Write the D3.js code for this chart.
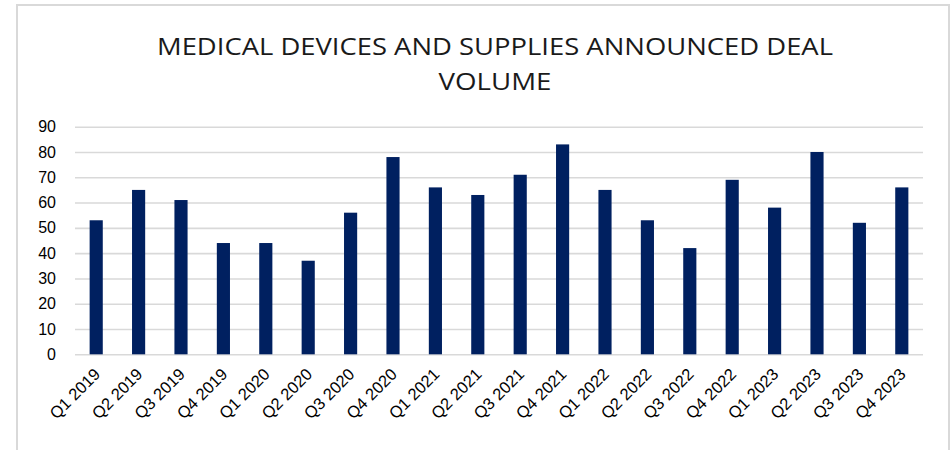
<!DOCTYPE html>
<html>
<head>
<meta charset="utf-8">
<script src="https://cdn.jsdelivr.net/npm/d3@7/dist/d3.min.js"></script>
<style>
  html, body { margin: 0; padding: 0; background: #fff; }
  svg { display: block; }
</style>
</head>
<body>
<svg id="chart" width="951" height="450"></svg>
<script>
// Quarterly announced deal counts
const quarters = ["Q1 2019","Q2 2019","Q3 2019","Q4 2019","Q1 2020","Q2 2020","Q3 2020","Q4 2020",
  "Q1 2021","Q2 2021","Q3 2021","Q4 2021","Q1 2022","Q2 2022","Q3 2022","Q4 2022",
  "Q1 2023","Q2 2023","Q3 2023","Q4 2023"];
const dealCounts = [53, 65, 61, 44, 44, 37, 56, 78, 66, 63, 71, 83, 65, 53, 42, 69, 58, 80, 52, 66];
const yTicks = [0, 10, 20, 30, 40, 50, 60, 70, 80, 90];
const titleLines = ["MEDICAL DEVICES AND SUPPLIES ANNOUNCED DEAL", "VOLUME"];

const svg = d3.select("#chart");

// Chart frame
svg.append("rect")
  .attr("x", 17).attr("y", 5)
  .attr("width", 932).attr("height", 460)
  .attr("fill", "#fff")
  .attr("stroke", "#d9d9d9").attr("stroke-width", 2);

const plot = { left: 75, right: 923, top: 126.7, bottom: 354.3 };

const x = d3.scaleBand()
  .domain(quarters)
  .range([plot.left, plot.right])
  .paddingInner(0.69)
  .paddingOuter(0.345);

const y = d3.scaleLinear()
  .domain([0, 90])
  .range([plot.bottom, plot.top]);

// Title
svg.append("g")
  .selectAll("text")
  .data(titleLines)
  .join("text")
  .attr("x", 495)
  .attr("y", (d, i) => 55 + i * 35)
  .attr("text-anchor", "middle")
  .attr("font-family", "'Open Sans', 'Liberation Sans', sans-serif")
  .attr("font-size", 24.5)
  .attr("fill", "#1a1a1a")
  .attr("textLength", (d, i) => i === 0 ? 676 : 113)
  .attr("lengthAdjust", "spacingAndGlyphs")
  .text(d => d);

// Horizontal gridlines and y labels
const yAxis = d3.axisLeft(y)
  .tickValues(yTicks)
  .tickSize(-(plot.right - plot.left))
  .tickPadding(19)
  .tickFormat(d3.format("d"));

const gy = svg.append("g")
  .attr("transform", `translate(${plot.left},0)`)
  .call(yAxis);
gy.select(".domain").remove();
gy.selectAll(".tick line")
  .attr("stroke", "#d9d9d9")
  .attr("stroke-width", 1.6);
gy.selectAll(".tick text")
  .attr("font-family", "'Liberation Sans', Arial, sans-serif")
  .attr("font-size", 16)
  .attr("fill", "#000");

// Bars
svg.append("g")
  .selectAll("rect")
  .data(dealCounts)
  .join("rect")
  .attr("x", (d, i) => x(quarters[i]))
  .attr("width", x.bandwidth())
  .attr("y", d => y(d))
  .attr("height", d => y(0) - y(d))
  .attr("fill", "#002060");

// Category labels, rotated
const xAxis = d3.axisBottom(x).tickSize(0).tickPadding(0);
const gx = svg.append("g")
  .attr("transform", `translate(0,${plot.bottom})`)
  .call(xAxis);
gx.select(".domain").remove();
gx.selectAll(".tick text")
  .attr("font-family", "'Liberation Sans', Arial, sans-serif")
  .attr("font-size", 16.5)
  .attr("fill", "#000")
  .attr("text-anchor", "end")
  .attr("dy", 0)
  .attr("transform", "translate(5,21) rotate(-45)");
</script>
</body>
</html>
